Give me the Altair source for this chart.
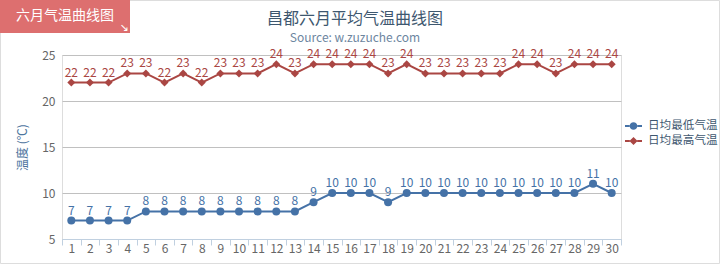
import altair as alt
import pandas as pd

# ---- data ----
days = list(range(1, 31))
low_temps = [7, 7, 7, 7, 8, 8, 8, 8, 8, 8, 8, 8, 8, 9, 10, 10, 10, 9, 10, 10,
             10, 10, 10, 10, 10, 10, 10, 10, 11, 10]
high_temps = [22, 22, 22, 23, 23, 22, 23, 22, 23, 23, 23, 24, 23, 24, 24, 24, 24, 23, 24, 23,
              23, 23, 23, 23, 24, 24, 23, 24, 24, 24]
series_names = ["日均最低气温", "日均最高气温"]
series_colors = ["#4572A7", "#AA4643"]
series_shapes = ["circle", "diamond"]
y_ticks = [5, 10, 15, 20, 25]
title_text = "昌都六月平均气温曲线图"
subtitle_text = "Source: w.zuzuche.com"
badge_text = "六月气温曲线图"
y_title = "温度 (℃)"

FONT = "Noto Sans CJK SC"

rows = []
for d, lo, hi in zip(days, low_temps, high_temps):
    rows.append({"day": d, "series": series_names[0], "temp": lo})
    rows.append({"day": d, "series": series_names[1], "temp": hi})
df = pd.DataFrame(rows)
one = pd.DataFrame({"t": [title_text], "s": [subtitle_text], "b": [badge_text], "a": ["↘"]})

x = alt.X("day:O", bandPosition=0.5,
          scale=alt.Scale(type="band", paddingInner=0, paddingOuter=0),
          axis=alt.Axis(title=None, tickBand="extent", labelAngle=0, domainColor="#C0D0E0",
                        tickColor="#C0D0E0", tickSize=6, labelPadding=-2, labelColor="#666666",
                        labelFontSize=12, labelFont=FONT, grid=False))
y_scale = alt.Scale(domain=[5, 25], nice=False, zero=False)
y = alt.Y("temp:Q", scale=y_scale,
          axis=alt.Axis(values=y_ticks, title=y_title, domain=False, ticks=False,
                        labelPadding=7, labelColor="#666666", labelFontSize=12, labelFont=FONT,
                        gridColor="#C0C0C0", titleColor="#4D759E", titleFontSize=12,
                        titleFont=FONT, titleFontWeight="normal", titleAngle=270,
                        titleX=-40, titleY=92, titleAlign="center", titleBaseline="middle"))

base = alt.Chart(df)
series_layers = []
for name, col, shp in zip(series_names, series_colors, series_shapes):
    sub = base.transform_filter(alt.datum.series == name)
    series_layers.append(sub.mark_line(strokeWidth=2, color=col).encode(x=x, y=y))
    series_layers.append(sub.mark_point(shape=shp, filled=True, size=64, opacity=1, color=col)
                         .encode(x=x, y=y))
    series_layers.append(sub.mark_text(dy=-10, fontSize=12, font=FONT, color=col)
                         .encode(x=x, y=y, text="temp:Q"))

circ_path = ("M-0.45,0 A0.45,0.45 0 1,0 0.45,0 A0.45,0.45 0 1,0 -0.45,0 Z "
             "M-1,-0.12 H-0.42 V0.12 H-1 Z M0.42,-0.12 H1 V0.12 H0.42 Z")
diam_path = ("M0,-0.48 L0.48,0 L0,0.48 L-0.48,0 Z "
             "M-1,-0.12 H-0.44 V0.12 H-1 Z M0.44,-0.12 H1 V0.12 H0.44 Z")

legend_def = alt.Legend(title=None, orient="none", legendX=563, legendY=62.5, symbolSize=289,
                        symbolStrokeWidth=0, labelFontSize=11.6, labelFont=FONT,
                        labelColor="#3E576F", rowPadding=0, padding=0, labelOffset=6)

# legend-only layer: points pushed far outside the y domain and clipped away
legend_layer = base.transform_calculate(off="1000").mark_point(
    filled=True, clip=True, opacity=1).encode(
    x=x, y=alt.Y("off:Q", scale=y_scale),
    shape=alt.Shape("series:N", scale=alt.Scale(domain=series_names, range=[circ_path, diam_path]),
                    legend=legend_def),
    color=alt.Color("series:N", scale=alt.Scale(domain=series_names, range=series_colors),
                    legend=legend_def),
)

ob = alt.Chart(one)
border = ob.mark_rect(fill="transparent", stroke="#DDDDDD", strokeWidth=1).encode(
    x=alt.value(-61.5), x2=alt.value(657.5), y=alt.value(-54.5), y2=alt.value(208.5))
badge = ob.mark_rect(fill="#DD6F6F").encode(
    x=alt.value(-62), x2=alt.value(68), y=alt.value(-55), y2=alt.value(-22))
badge_t = ob.mark_text(fontSize=14, font=FONT, color="white", align="center", baseline="middle").encode(
    text="b:N", x=alt.value(3), y=alt.value(-39))
badge_a = ob.mark_text(fontSize=11, font="DejaVu Sans", color="white", align="center", baseline="middle").encode(
    text="a:N", x=alt.value(62), y=alt.value(-27))
title = ob.mark_text(fontSize=16, font=FONT, color="#3E576F", align="center", baseline="middle").encode(
    text="t:N", x=alt.value(293), y=alt.value(-36))
subtitle = ob.mark_text(fontSize=12, font=FONT, color="#6D869F", align="center", baseline="middle").encode(
    text="s:N", x=alt.value(293), y=alt.value(-17))

chart = alt.layer(
    border, *series_layers, legend_layer, badge, badge_t, badge_a, title, subtitle
).properties(
    width=559, height=184,
    autosize=alt.AutoSizeParams(type="none"),
    padding={"left": 62, "top": 55, "right": 99, "bottom": 25},
).configure_view(stroke="transparent").configure(background="white")

chart.save("out.html", embed_options={"renderer": "svg", "actions": False})
